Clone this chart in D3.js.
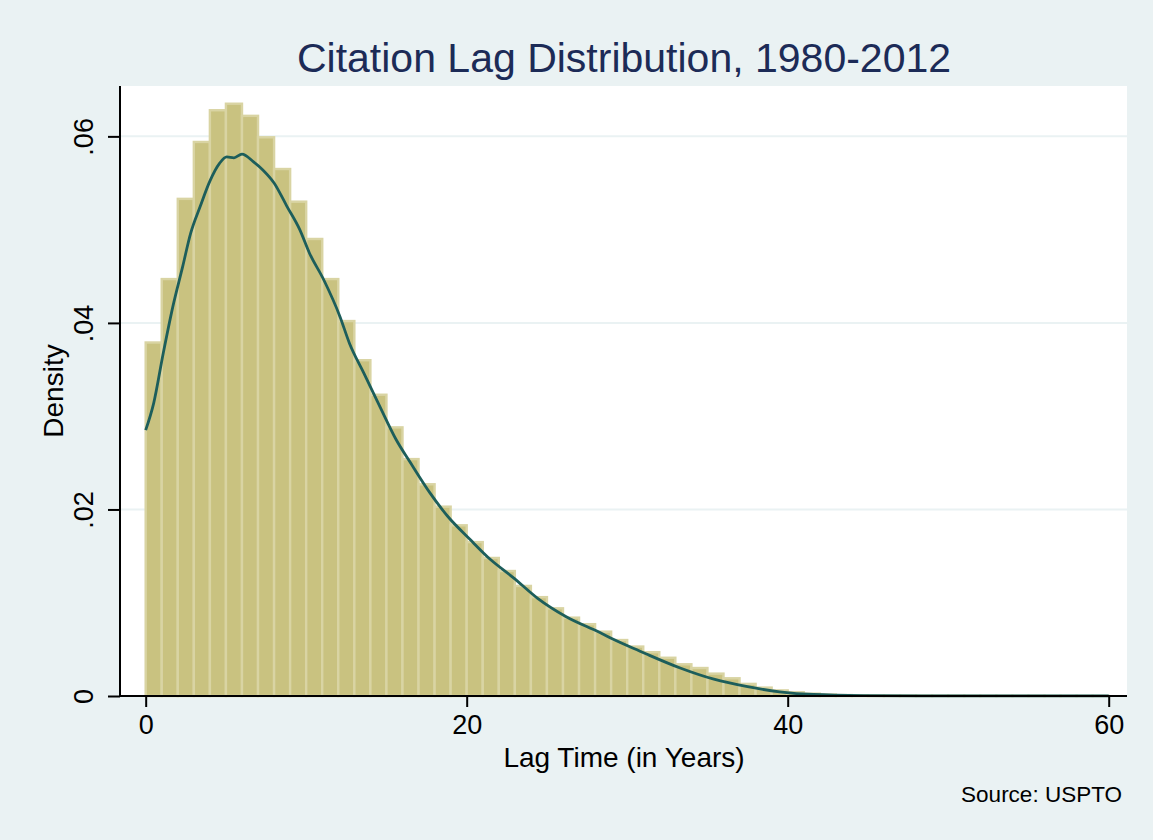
<!DOCTYPE html>
<html>
<head>
<meta charset="utf-8">
<script src="https://cdn.jsdelivr.net/npm/d3@7"></script>
<style>
  html, body { margin: 0; padding: 0; background: #eaf2f3; }
  svg { display: block; font-family: "Liberation Sans", Arial, sans-serif; }
</style>
</head>
<body>
<svg width="1153" height="840"></svg>
<script>
// histogram bins: lag years [k, k+1), density per bin
var binStarts = d3.range(0, 60);
var binDensity = [
  0.0379, 0.0447, 0.0533, 0.0594, 0.0628, 0.0635, 0.0622, 0.0599, 0.0565, 0.0530,
  0.0490, 0.0447, 0.0402, 0.0360, 0.0323, 0.0288, 0.0254, 0.0227, 0.0203, 0.0183,
  0.0165, 0.0148, 0.0134, 0.0118, 0.0106, 0.0094, 0.0084, 0.0077, 0.0069, 0.0060,
  0.0053, 0.0047, 0.0041, 0.0034, 0.0030, 0.0024, 0.0019, 0.0013, 0.0009, 0.0006,
  0.0004, 0.00025, 0.00015, 0.0001, 0.00007, 0.00005, 0.00004, 0.00004, 0.00003, 0.00003,
  0.00003, 0.00002, 0.00002, 0.00002, 0.00002, 0.00002, 0.00001, 0.00001, 0.00001, 0.00001
];

// kernel density curve
var kdX = [0, 0.5, 1.1, 1.7, 2.3, 2.8, 3.4, 4.0, 4.6, 5.05, 5.5, 6.0, 6.7, 7.3, 8.0, 8.8,
  9.6, 10.2, 11.1, 12.1, 12.7, 13.6, 14.6, 15.6, 16.5, 17.7, 18.8, 20.2, 21.5, 22.9,
  24.4, 26.2, 28.3, 29.1, 30.8, 31.2, 33.3, 35.4, 37.5, 39.5, 41.6, 44.7, 50, 60];
var kdY = [0.0285, 0.0314, 0.0368, 0.0418, 0.0460, 0.0496, 0.0525, 0.0552, 0.0571, 0.0578, 0.0577, 0.0581,
  0.0573, 0.0564, 0.0550, 0.0525, 0.0500, 0.0475, 0.0446, 0.0407, 0.0378, 0.0346, 0.0310, 0.0275,
  0.0250, 0.0218, 0.0193, 0.0168, 0.0146, 0.0127, 0.0105, 0.0085, 0.0068, 0.0061, 0.0048, 0.0045,
  0.0030, 0.0018, 0.0010, 0.00045, 0.00016, 0.00005, 0.00001, 0.00001];

var xTicks = [0, 20, 40, 60];
var yTicks = [0, 0.02, 0.04, 0.06];
var yTickLabels = ["0", ".02", ".04", ".06"];

var svg = d3.select("svg");

var plot = { left: 120, right: 1127, top: 86, bottom: 696 };

var x = d3.scaleLinear().domain([-1.6, 61.14]).range([plot.left, plot.right]);
var y = d3.scaleLinear().domain([0, 0.0654]).range([plot.bottom, plot.top]);

// plot region
svg.append("rect")
    .attr("x", plot.left).attr("y", plot.top)
    .attr("width", plot.right - plot.left).attr("height", plot.bottom - plot.top)
    .attr("fill", "#ffffff");

// gridlines
svg.append("g").selectAll("line")
    .data(yTicks.slice(1))
    .enter().append("line")
      .attr("x1", plot.left).attr("x2", plot.right)
      .attr("y1", function(d) { return y(d); })
      .attr("y2", function(d) { return y(d); })
      .attr("stroke", "#eaf2f3")
      .attr("stroke-width", 2);

// bars
svg.append("g").selectAll("rect")
    .data(binStarts)
    .enter().append("rect")
      .attr("x", function(d) { return x(d); })
      .attr("y", function(d, i) { return y(binDensity[i]); })
      .attr("width", function(d) { return x(d + 1) - x(d); })
      .attr("height", function(d, i) { return y(0) - y(binDensity[i]); })
      .attr("fill", "#c9c280")
      .attr("stroke", "#d9d4a3")
      .attr("stroke-width", 2.4);

// density line
var line = d3.line()
    .x(function(d) { return x(d); })
    .y(function(d, i) { return y(kdY[i]); })
    .curve(d3.curveMonotoneX);

svg.append("path")
    .attr("d", line(kdX))
    .attr("fill", "none")
    .attr("stroke", "#1d5e5b")
    .attr("stroke-width", 2.8);

// axes
var xAxis = svg.append("g")
    .attr("transform", "translate(0," + plot.bottom + ")")
    .call(d3.axisBottom(x).tickValues(xTicks).tickSize(11).tickPadding(8).tickSizeOuter(0));
xAxis.select(".domain").attr("d", "M" + plot.left + ",0H" + plot.right).attr("stroke-width", 2);
xAxis.selectAll(".tick line").attr("stroke-width", 2);
xAxis.selectAll(".tick text")
    .attr("font-size", 27)
    .attr("font-family", "Liberation Sans, Arial, sans-serif")
    .attr("fill", "#000");

var yAxis = svg.append("g")
    .attr("transform", "translate(" + plot.left + ",0)")
    .call(d3.axisLeft(y).tickValues(yTicks).tickSize(12).tickSizeOuter(0)
      .tickFormat(function(d, i) { return yTickLabels[i]; }));
yAxis.select(".domain").attr("d", "M0," + plot.top + "V" + plot.bottom).attr("stroke-width", 2);
yAxis.selectAll(".tick line").attr("stroke-width", 2);
yAxis.selectAll(".tick text")
    .attr("font-size", 27)
    .attr("font-family", "Liberation Sans, Arial, sans-serif")
    .attr("fill", "#000")
    .attr("x", null).attr("dy", null)
    .attr("text-anchor", "middle")
    .attr("transform", "translate(-37,0) rotate(-90) translate(0,10)");

// titles
svg.append("text")
    .attr("x", 624).attr("y", 72)
    .attr("text-anchor", "middle")
    .attr("font-size", 41)
    .attr("fill", "#1c2b57")
    .text("Citation Lag Distribution, 1980-2012");

svg.append("text")
    .attr("x", 624).attr("y", 767)
    .attr("text-anchor", "middle")
    .attr("font-size", 28)
    .attr("fill", "#000")
    .text("Lag Time (in Years)");

svg.append("text")
    .attr("transform", "translate(63,391) rotate(-90)")
    .attr("text-anchor", "middle")
    .attr("font-size", 28)
    .attr("fill", "#000")
    .text("Density");

svg.append("text")
    .attr("x", 1122).attr("y", 802)
    .attr("text-anchor", "end")
    .attr("font-size", 22.5)
    .attr("fill", "#000")
    .text("Source: USPTO");
</script>
</body>
</html>
